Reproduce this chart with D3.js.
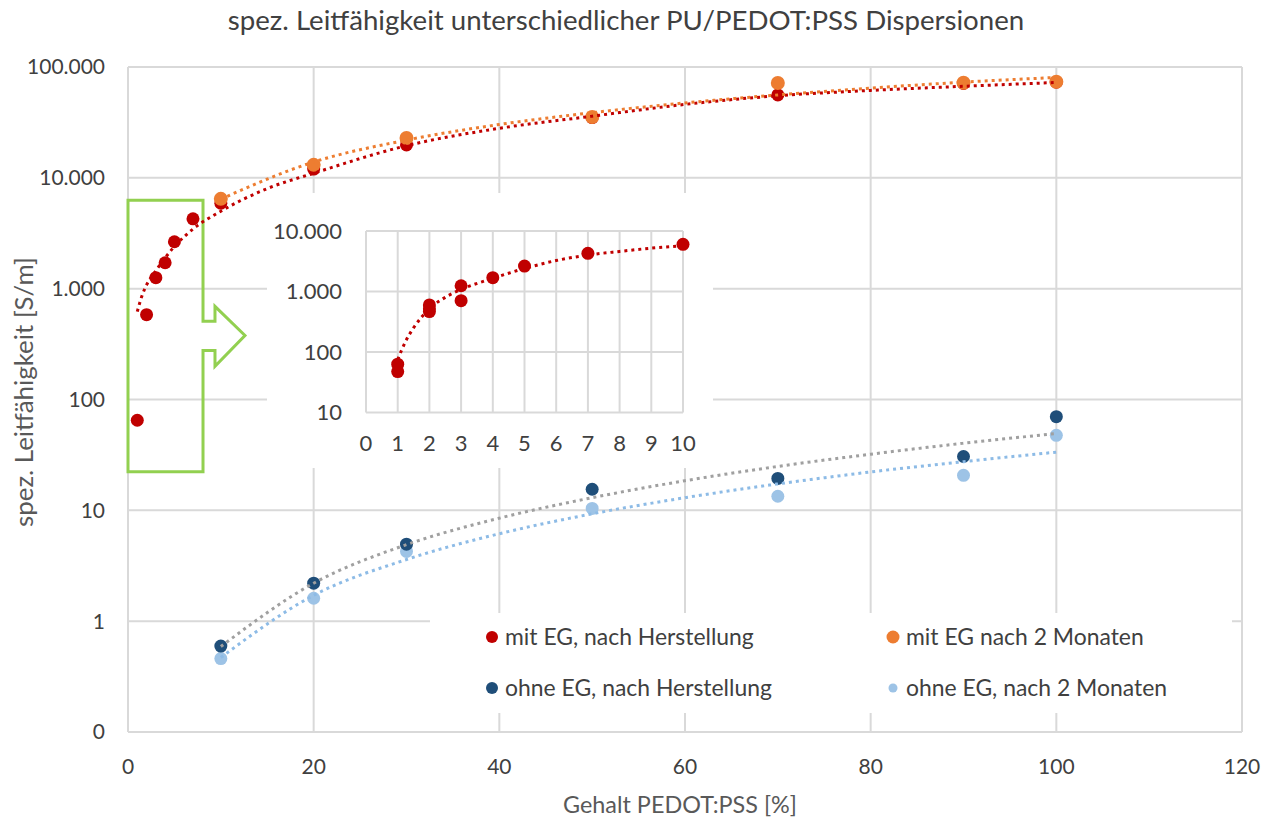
<!DOCTYPE html>
<html><head><meta charset="utf-8">
<script src="https://cdn.jsdelivr.net/npm/d3@7"></script>
<style>
body{margin:0;background:#fff}
svg{display:block}
text{font-family:Lato,"Open Sans",sans-serif}
</style>
</head><body>
<svg id="c" width="1279" height="819"></svg>
<script>
// ---------- data ----------
const titleText = "spez. Leitfähigkeit unterschiedlicher PU/PEDOT:PSS Dispersionen";
const xTitle = "Gehalt PEDOT:PSS [%]";
const yTitle = "spez. Leitfähigkeit [S/m]";
const seriesNames = ["mit EG, nach Herstellung","mit EG nach 2 Monaten","ohne EG, nach Herstellung","ohne EG, nach 2 Monaten"];
const seriesColors = ["#c00000","#ed7d31","#1f4e79","#9dc3e6"];
const trendColors = ["#c00000","#ed7d31","#a0a0a0","#8dbbe6"];

const xTickValues = [0,20,40,60,80,100,120];
const yTickValues = [0.1,1,10,100,1000,10000,100000];
const yTickLabels = ["0","1","10","100","1.000","10.000","100.000"];

// mit EG, nach Herstellung
const mitEgNeuX = [1,2,3,4,5,7,10,20,30,50,70,90,100];
const mitEgNeuY = [65,583,1257,1714,2650,4270,5900,12000,19800,35000,56000,71000,73000];
// mit EG nach 2 Monaten
const mitEgAltX = [10,20,30,50,70,90,100];
const mitEgAltY = [6460,13100,22900,35400,71800,72100,73500];
// ohne EG, nach Herstellung
const ohneEgNeuX = [10,20,30,50,70,90,100];
const ohneEgNeuY = [0.596,2.2,4.95,15.5,19.4,30.6,70];
// ohne EG, nach 2 Monaten
const ohneEgAltX = [10,20,30,50,70,90,100];
const ohneEgAltY = [0.46,1.61,4.26,10.4,13.4,20.7,47.5];

// trendlines
const trendMitNeuX = [1,1.5,2,3,4,5,7,10,15,20,30,40,50,60,70,80,90,100];
const trendMitNeuY = [620,860,1080,1450,1900,2400,3450,5000,8000,11000,19500,28000,36000,46000,55000,61500,67000,72500];
const trendMitAltX = [10,20,30,40,50,60,70,80,90,100];
const trendMitAltY = [6430,13900,21900,30300,38700,47400,56000,64500,73000,80500];
const trendOhneNeuX = [10,20,30,40,50,60,70,80,90,100];
const trendOhneNeuY = [0.59,2.2,4.9,8.5,13,18.5,24.9,32.1,40.3,49.3];
const trendOhneAltX = [10,20,30,40,50,60,70,80,90,100];
const trendOhneAltY = [0.47,1.71,3.6,6.15,9.3,13,17.3,22.2,27.5,33.5];

// inset (detail 0-10 %)
const insetXTicks = [0,1,2,3,4,5,6,7,8,9,10];
const insetYTicks = [10,100,1000,10000];
const insetYLabels = ["10","100","1.000","10.000"];
const insetX = [1,1,2,2,2,3,3,4,5,7,10];
const insetY = [63,47.5,600,520,465,1245,705,1690,2630,4270,6030];
const insetTrendX = [1,1.25,1.5,2,2.5,3,4,5,6,7,8,9,10];
const insetTrendY = [75,150,250,520,800,1080,1650,2400,3250,4000,4600,5200,5700];

// green arrow annotation (data coordinates of main chart)
const arrowX = [0,8.08,8.08,9.37,9.37,12.6,9.37,9.37,8.08,8.08,0];
const arrowY = [6280,6280,507,507,692,378,199,277,277,22.3,22.3];

// ---------- drawing ----------
const svg = d3.select("#c");
const GRID = "#d9d9d9", TXT = "#404040", TXT2 = "#595959";

function fit(sel, target){
  const n = sel.node(); const fs = parseFloat(sel.attr("font-size"));
  const w = n.getComputedTextLength();
  sel.attr("font-size", (fs*target/w).toFixed(2));
  return fs*target/w;
}

const x = d3.scaleLinear().domain([0,120]).range([128,1242]);
const y = d3.scaleLog().domain([0.1,100000]).range([732,67]);

// gridlines
const g = svg.append("g");
g.selectAll("line.v").data(xTickValues.slice(1)).join("line")
  .attr("x1",d=>x(d)).attr("x2",d=>x(d)).attr("y1",y(100000)).attr("y2",y(0.1))
  .attr("stroke",GRID).attr("stroke-width",2);
g.selectAll("line.h").data(yTickValues).join("line")
  .attr("x1",x(0)).attr("x2",x(120)).attr("y1",d=>y(d)).attr("y2",d=>y(d))
  .attr("stroke",GRID).attr("stroke-width",2);
g.append("line").attr("x1",x(0)).attr("x2",x(0)).attr("y1",y(100000)).attr("y2",y(0.1))
  .attr("stroke",GRID).attr("stroke-width",2);

// tick labels
const tickFs = (()=>{
  const t = svg.append("text").attr("font-size",22).text("100.000");
  const f = fit(t,78); t.remove(); return f;
})();
svg.append("g").selectAll("text").data(yTickValues).join("text")
  .attr("x",105).attr("y",d=>y(d)).attr("dy","0.35em").attr("text-anchor","end")
  .attr("font-size",tickFs).attr("fill",TXT).text((d,i)=>yTickLabels[i]);
svg.append("g").selectAll("text").data(xTickValues).join("text")
  .attr("x",d=>x(d)).attr("y",767).attr("dy","0.35em").attr("text-anchor","middle")
  .attr("font-size",tickFs).attr("fill",TXT).text(d=>d);

// titles
const tt = svg.append("text").attr("x",626).attr("y",20).attr("dy","0.35em")
  .attr("text-anchor","middle").attr("font-size",24).attr("fill",TXT).text(titleText);
fit(tt,797);
const xt = svg.append("text").attr("x",680).attr("y",805).attr("dy","0.35em")
  .attr("text-anchor","middle").attr("font-size",22).attr("fill",TXT2).text(xTitle);
fit(xt,234);
const yt = svg.append("text").attr("transform","translate(24,392) rotate(-90)").attr("dy","0.35em")
  .attr("text-anchor","middle").attr("font-size",22).attr("fill",TXT2).text(yTitle);
fit(yt,270);

// green arrow
svg.append("path")
  .attr("d", d3.line()(arrowX.map((v,i)=>[x(v), y(arrowY[i])])) + "Z")
  .attr("fill","none").attr("stroke","#92d050").attr("stroke-width",3);

// inset white background
const insetBg = {x0:267,x1:713,y0:193,y1:468};
svg.append("rect").attr("x",insetBg.x0).attr("y",insetBg.y0)
  .attr("width",insetBg.x1-insetBg.x0).attr("height",insetBg.y1-insetBg.y0).attr("fill","#fff");

// legend white background
svg.append("rect").attr("x",430).attr("y",613).attr("width",802).attr("height",100).attr("fill","#fff");

// main series
const lineGen = (sx,sy)=>d3.line().x(d=>sx(d[0])).y(d=>sy(d[1])).curve(d3.curveMonotoneX);
const series = [
  {x:mitEgNeuX,y:mitEgNeuY,c:seriesColors[0],r:6.5},
  {x:mitEgAltX,y:mitEgAltY,c:seriesColors[1],r:7},
  {x:ohneEgAltX,y:ohneEgAltY,c:seriesColors[3],r:6.5},
  {x:ohneEgNeuX,y:ohneEgNeuY,c:seriesColors[2],r:6.5}
];
series.forEach(s=>{
  svg.append("g").selectAll("circle").data(s.x.map((v,i)=>[v,s.y[i]])).join("circle")
    .attr("cx",d=>x(d[0])).attr("cy",d=>y(d[1])).attr("r",s.r).attr("fill",s.c);
});
const trends = [
  {x:trendMitNeuX,y:trendMitNeuY,c:trendColors[0]},
  {x:trendMitAltX,y:trendMitAltY,c:trendColors[1]},
  {x:trendOhneNeuX,y:trendOhneNeuY,c:trendColors[2]},
  {x:trendOhneAltX,y:trendOhneAltY,c:trendColors[3]}
];
trends.forEach(t=>{
  svg.append("path").attr("d",lineGen(x,y)(t.x.map((v,i)=>[v,t.y[i]])))
    .attr("fill","none").attr("stroke",t.c).attr("stroke-width",3)
    .attr("stroke-dasharray","3 4");
});

// ---------- inset ----------
const ix = d3.scaleLinear().domain([0,10]).range([366,683]);
const iy = d3.scaleLog().domain([10,10000]).range([412.5,231]);
const ig = svg.append("g");
ig.selectAll("line.v").data(insetXTicks).join("line")
  .attr("x1",d=>ix(d)).attr("x2",d=>ix(d)).attr("y1",iy(10000)).attr("y2",iy(10))
  .attr("stroke",GRID).attr("stroke-width",2);
ig.selectAll("line.h").data(insetYTicks).join("line")
  .attr("x1",ix(0)).attr("x2",ix(10)).attr("y1",d=>iy(d)).attr("y2",d=>iy(d))
  .attr("stroke",GRID).attr("stroke-width",2);
const itFs = (()=>{
  const t = svg.append("text").attr("font-size",20).text("10.000");
  const f = fit(t,69); t.remove(); return f;
})();
ig.selectAll("text.y").data(insetYTicks).join("text")
  .attr("x",342).attr("y",d=>iy(d)).attr("dy","0.35em").attr("text-anchor","end")
  .attr("font-size",itFs).attr("fill",TXT).text((d,i)=>insetYLabels[i]);
ig.selectAll("text.x").data(insetXTicks).join("text")
  .attr("x",d=>ix(d)).attr("y",443).attr("dy","0.35em").attr("text-anchor","middle")
  .attr("font-size",itFs).attr("fill",TXT).text(d=>d);
ig.append("g").selectAll("circle").data(insetX.map((v,i)=>[v,insetY[i]])).join("circle")
  .attr("cx",d=>ix(d[0])).attr("cy",d=>iy(d[1])).attr("r",6.5).attr("fill",seriesColors[0]);
ig.append("path").attr("d",lineGen(ix,iy)(insetTrendX.map((v,i)=>[v,insetTrendY[i]])))
  .attr("fill","none").attr("stroke",seriesColors[0]).attr("stroke-width",3)
  .attr("stroke-dasharray","3 4");

// ---------- legend ----------
const legPos = [[492,637],[893,637],[492,688],[893,688]];
const legR = [6,6.5,6,4.5];
const lg = svg.append("g");
let legFs = 21;
{
  const t = svg.append("text").attr("font-size",21).text(seriesNames[0]);
  legFs = fit(t,249); t.remove();
}
seriesNames.forEach((n,i)=>{
  lg.append("circle").attr("cx",legPos[i][0]).attr("cy",legPos[i][1]).attr("r",legR[i]).attr("fill",seriesColors[i]);
  lg.append("text").attr("x",legPos[i][0]+13).attr("y",legPos[i][1]).attr("dy","0.35em")
    .attr("font-size",legFs).attr("fill",TXT).text(n);
});
</script>
</body></html>
